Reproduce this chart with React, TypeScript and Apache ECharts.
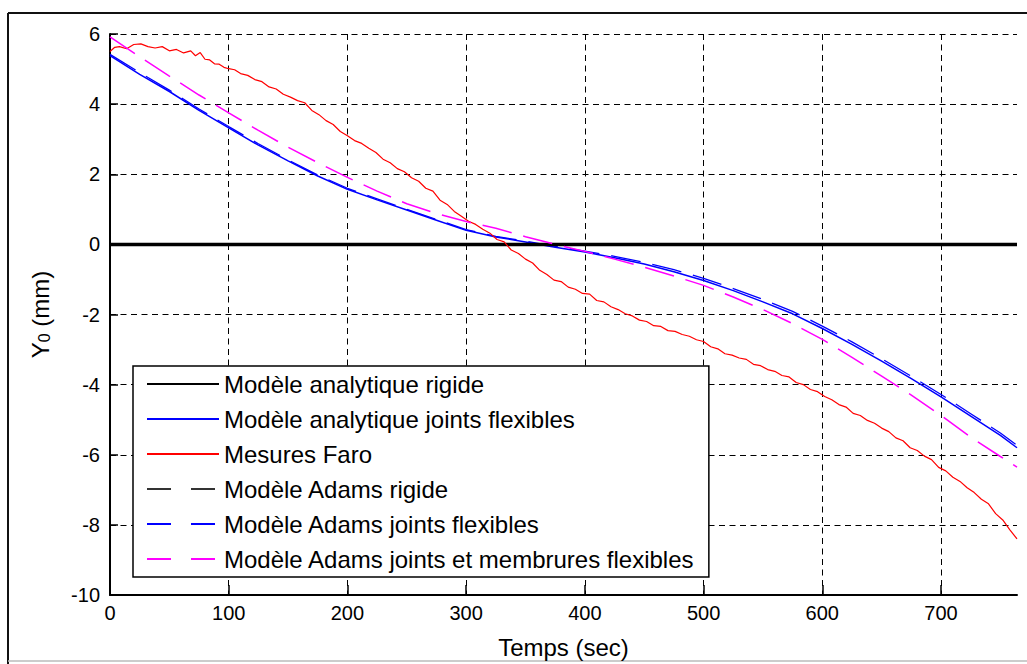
import React, { useEffect, useRef } from 'react';
import * as echarts from 'echarts';

const FONT = "'Liberation Sans', Arial, sans-serif";

const xTicks = [0, 100, 200, 300, 400, 500, 600, 700];
const yTicks = [-10, -8, -6, -4, -2, 0, 2, 4, 6];

const rigidX = [0, 764];
const analytiqueRigide = [0, 0];
const adamsRigide = [0, 0];

const modelX = [0, 25, 50, 75, 100, 125, 150, 175, 200, 225, 250, 275, 300, 325, 350, 375, 400, 425, 450, 475, 500, 525, 550, 575, 600, 625, 650, 675, 700, 725, 750, 764];
const analytiqueFlex = [5.38, 4.85, 4.36, 3.82, 3.32, 2.83, 2.38, 1.95, 1.57, 1.27, 0.98, 0.69, 0.40, 0.21, 0.07, -0.08, -0.22, -0.38, -0.56, -0.78, -1.03, -1.32, -1.64, -1.98, -2.40, -2.85, -3.33, -3.83, -4.35, -4.90, -5.45, -5.80];
const adamsFlex = [5.42, 4.90, 4.40, 3.86, 3.36, 2.87, 2.41, 1.98, 1.60, 1.30, 1.00, 0.71, 0.42, 0.23, 0.09, -0.06, -0.19, -0.34, -0.51, -0.72, -0.97, -1.26, -1.57, -1.91, -2.33, -2.78, -3.26, -3.76, -4.28, -4.83, -5.38, -5.73];
const adamsMembrures = [5.92, 5.35, 4.80, 4.26, 3.75, 3.25, 2.77, 2.33, 1.91, 1.52, 1.16, 0.88, 0.65, 0.46, 0.22, 0.0, -0.20, -0.42, -0.65, -0.90, -1.17, -1.50, -1.86, -2.26, -2.71, -3.22, -3.76, -4.30, -4.88, -5.50, -6.05, -6.35];

const faroX = [0, 4, 8, 14, 20, 26, 32, 38, 44, 50, 56, 62, 68, 72, 76, 80, 84, 88, 92, 96, 100, 105, 110, 116, 122, 128, 134, 140, 146, 152, 158, 164, 170, 176, 182, 188, 194, 200, 206, 212, 218, 224, 230, 236, 242, 248, 254, 260, 266, 272, 278, 284, 290, 296, 302, 308, 314, 320, 326, 332, 338, 344, 350, 356, 362, 368, 374, 380, 386, 392, 398, 404, 410, 416, 422, 428, 434, 440, 446, 452, 458, 464, 470, 476, 482, 488, 494, 500, 506, 512, 518, 524, 530, 536, 542, 548, 554, 560, 566, 572, 578, 584, 590, 596, 602, 608, 614, 620, 626, 632, 638, 644, 650, 656, 662, 668, 674, 680, 686, 692, 698, 704, 710, 716, 722, 728, 734, 740, 746, 752, 758, 764];
const faroY = [5.50, 5.62, 5.64, 5.58, 5.70, 5.72, 5.64, 5.60, 5.64, 5.52, 5.56, 5.46, 5.52, 5.38, 5.47, 5.28, 5.26, 5.15, 5.14, 5.05, 5.01, 4.98, 4.87, 4.82, 4.70, 4.64, 4.49, 4.43, 4.28, 4.20, 4.10, 4.04, 3.82, 3.70, 3.53, 3.42, 3.22, 3.10, 2.96, 2.88, 2.74, 2.62, 2.43, 2.33, 2.16, 2.07, 1.90, 1.80, 1.60, 1.52, 1.26, 1.14, 0.94, 0.80, 0.66, 0.57, 0.43, 0.32, 0.14, 0.07, -0.16, -0.26, -0.42, -0.53, -0.74, -0.86, -1.02, -1.06, -1.22, -1.28, -1.40, -1.42, -1.60, -1.64, -1.78, -1.86, -1.98, -2.04, -2.16, -2.20, -2.32, -2.34, -2.46, -2.48, -2.57, -2.62, -2.72, -2.77, -2.92, -2.98, -3.12, -3.16, -3.24, -3.28, -3.42, -3.46, -3.57, -3.62, -3.74, -3.78, -3.94, -4.00, -4.14, -4.20, -4.34, -4.43, -4.57, -4.64, -4.82, -4.88, -5.02, -5.10, -5.24, -5.34, -5.52, -5.60, -5.80, -5.88, -6.04, -6.14, -6.36, -6.46, -6.64, -6.76, -6.94, -7.08, -7.27, -7.40, -7.68, -7.86, -8.14, -8.40];

const names = [
  'Modèle analytique rigide',
  'Modèle analytique joints flexibles',
  'Mesures Faro',
  'Modèle Adams rigide',
  'Modèle Adams joints flexibles',
  'Modèle Adams joints et membrures flexibles',
];

const pairs = (xs: number[], ys: number[]) => xs.map((x, i) => [x, ys[i]]);

export default function App() {
  const ref = useRef<HTMLDivElement>(null);
  useEffect(() => {
    const chart = echarts.init(ref.current!, null, { renderer: 'svg' });
    const dashData = [30, 12];
    const legendDash = [24, 20];
    const option: any = {
      animation: false,
      backgroundColor: '#fff',
      textStyle: { fontFamily: FONT },
      grid: { left: 110, top: 34, right: 10, bottom: 66, containLabel: false },
      xAxis: {
        type: 'value', min: 0, max: 764, interval: 100,
        name: 'Temps (sec)', nameLocation: 'middle', nameGap: 40,
        nameTextStyle: { fontSize: 24, color: '#000', fontFamily: FONT },
        axisLine: { show: true, onZero: false, lineStyle: { color: '#000', width: 2 } },
        axisTick: { show: true, inside: true, length: 10, customValues: xTicks, lineStyle: { color: '#000', width: 1.5 } },
        axisLabel: {
          color: '#000', fontSize: 20, margin: 8, fontFamily: FONT, customValues: xTicks,
          formatter: (v: number) => (v % 100 === 0 ? String(v) : ''),
        },
        splitLine: { show: true, showMinLine: false, lineStyle: { color: '#000', type: [6, 4.5], width: 1 } },
      },
      yAxis: {
        type: 'value', min: -10, max: 6, interval: 2,
        name: 'Y{sub|0} (mm)', nameLocation: 'middle', nameGap: 58,
        nameTextStyle: { fontSize: 24, color: '#000', fontFamily: FONT, rich: { sub: { fontSize: 16, color: '#000', fontFamily: FONT, padding: [8, 0, 0, 0] } } },
        axisLine: { show: true, onZero: false, lineStyle: { color: '#000', width: 2 } },
        axisTick: { show: true, inside: true, length: 8, customValues: yTicks, lineStyle: { color: '#000', width: 1.5 } },
        axisLabel: { color: '#000', fontSize: 20, margin: 10, fontFamily: FONT },
        splitLine: { show: true, showMinLine: false, showMaxLine: true, lineStyle: { color: '#000', type: [6, 4.5], width: 1 } },
      },
      legend: {
        show: true, orient: 'vertical', left: 133, top: 366,
        padding: [6, 14, 6, 13], itemWidth: 72, itemHeight: 14, itemGap: 11,
        backgroundColor: '#fff', borderColor: '#000', borderWidth: 1.5, borderRadius: 0,
        itemStyle: { opacity: 0 },
        textStyle: { fontSize: 24, lineHeight: 24, color: '#000', fontFamily: FONT },
        data: [
          { name: names[0] },
          { name: names[1] },
          { name: names[2] },
          { name: names[3], lineStyle: { type: legendDash } },
          { name: names[4], lineStyle: { type: legendDash } },
          { name: names[5], lineStyle: { type: legendDash } },
        ],
      },
      graphic: [
        { type: 'line', shape: { x1: 8, y1: 13, x2: 1027, y2: 13 }, style: { stroke: '#111', lineWidth: 2 }, silent: true },
        { type: 'line', shape: { x1: 8, y1: 13, x2: 8, y2: 664 }, style: { stroke: '#111', lineWidth: 2 }, silent: true },
        { type: 'line', shape: { x1: 8, y1: 661, x2: 1027, y2: 661 }, style: { stroke: '#bbb', lineWidth: 1.5 }, silent: true },
      ],
      series: [
        { name: names[0], type: 'line', z: 3, data: pairs(rigidX, analytiqueRigide), symbol: 'none', lineStyle: { color: '#000', width: 3.5 }, itemStyle: { color: '#000' } },
        { name: names[1], type: 'line', z: 2, data: pairs(modelX, analytiqueFlex), symbol: 'none', lineStyle: { color: '#0000ff', width: 1.5 }, itemStyle: { color: '#0000ff' } },
        { name: names[2], type: 'line', z: 4, data: pairs(faroX, faroY), symbol: 'none', lineStyle: { color: '#ff0000', width: 1.2 }, itemStyle: { color: '#ff0000' } },
        { name: names[3], type: 'line', z: 1, data: pairs(rigidX, adamsRigide), symbol: 'none', lineStyle: { color: '#333', width: 1.5, type: dashData }, itemStyle: { color: '#333' } },
        { name: names[4], type: 'line', z: 2, data: pairs(modelX, adamsFlex), symbol: 'none', lineStyle: { color: '#0000ff', width: 1.3, type: dashData }, itemStyle: { color: '#0000ff' } },
        { name: names[5], type: 'line', z: 4, data: pairs(modelX, adamsMembrures), symbol: 'none', lineStyle: { color: '#ff00ff', width: 1.5, type: dashData }, itemStyle: { color: '#ff00ff' } },
      ],
    };
    chart.setOption(option);
    return () => chart.dispose();
  }, []);
  return <div ref={ref} style={{ position: 'fixed', left: 0, top: 0, width: 1027, height: 664, background: '#fff' }} />;
}
